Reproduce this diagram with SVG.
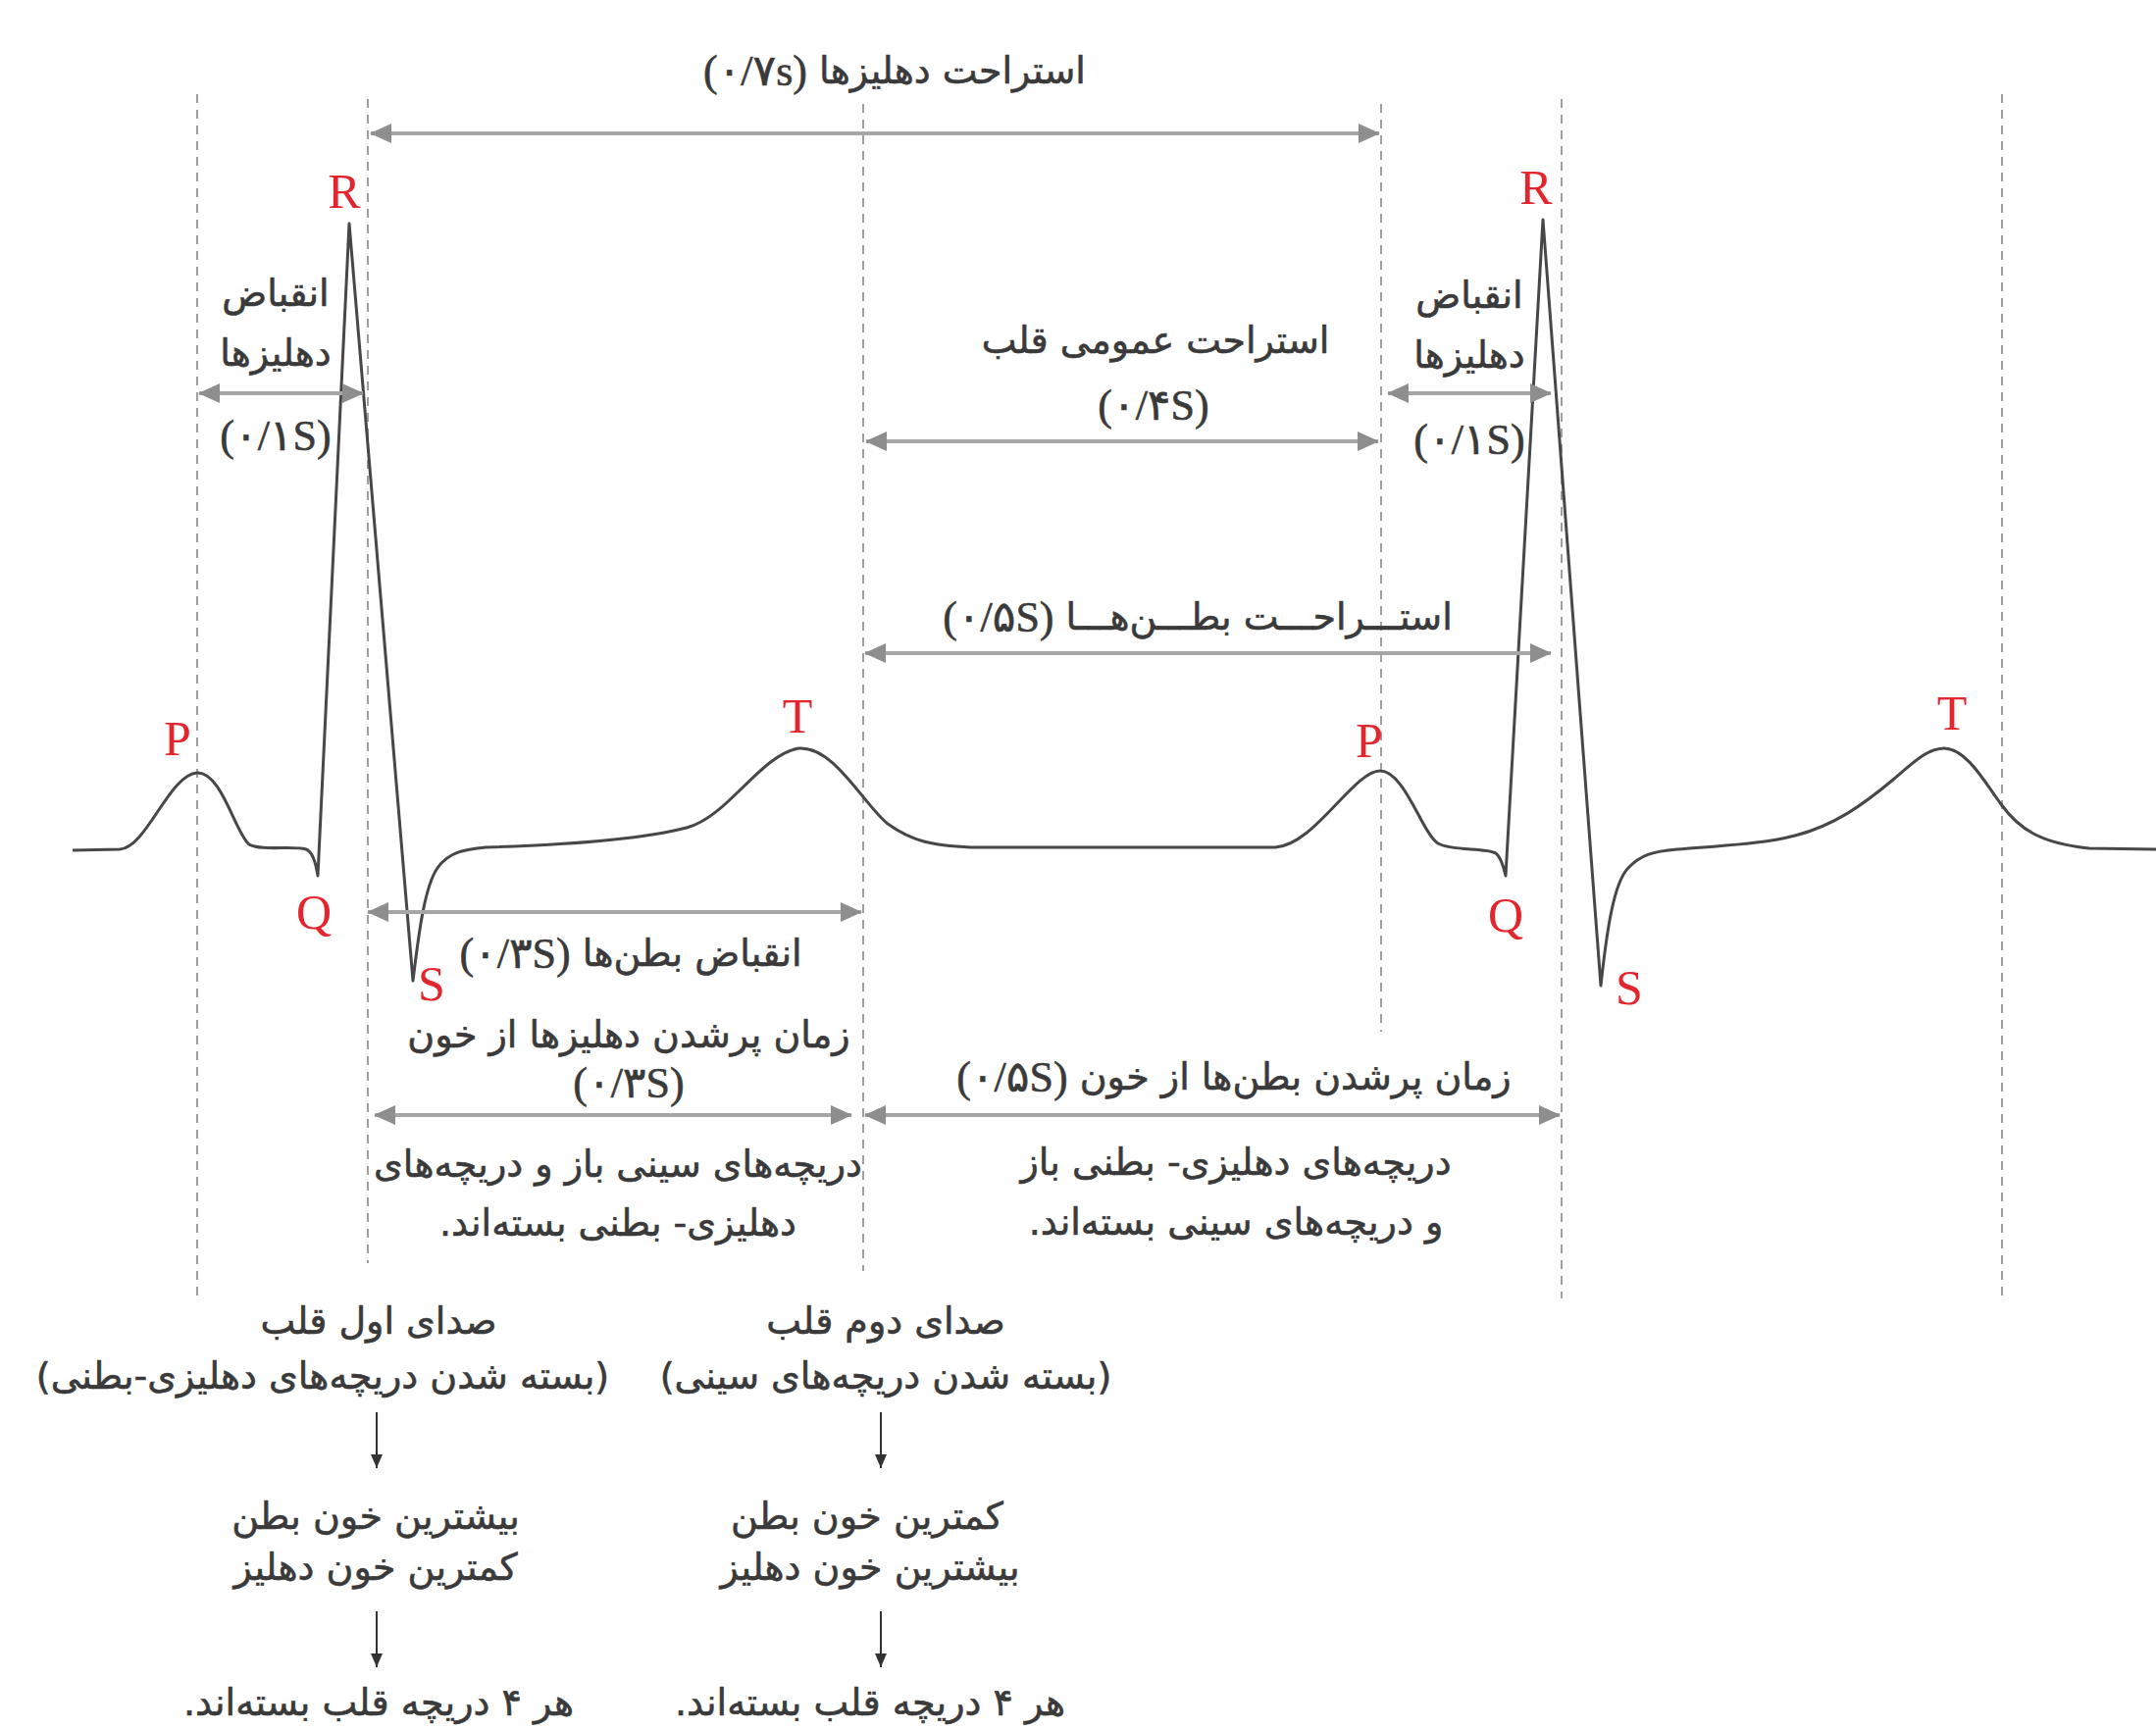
<svg xmlns="http://www.w3.org/2000/svg" width="2198" height="1763" viewBox="0 0 2198 1763">
<style>
.fa{font-family:"DejaVu Sans",sans-serif;font-size:38px;fill:#3a3a3a;stroke:#3a3a3a;stroke-width:0.6;direction:rtl;text-anchor:middle;dominant-baseline:central}
.ser{font-family:"Liberation Serif","DejaVu Sans",serif;font-size:44px}
.lbl{font-family:"Liberation Serif",serif;font-size:50px;fill:#e3262e;text-anchor:middle}
.guide{stroke:#a0a0a0;stroke-width:2;stroke-dasharray:9 7;fill:none}
.dim{stroke:#a6a6a6;stroke-width:4;fill:none;marker-start:url(#ah);marker-end:url(#ah)}
.flow{stroke:#333;stroke-width:2;fill:none;marker-end:url(#sh)}
.ecg{stroke:#474747;stroke-width:3;fill:none;stroke-linejoin:round}
</style>
<defs>
<marker id="ah" viewBox="0 0 22 20" refX="21" refY="10" markerWidth="22" markerHeight="20" orient="auto-start-reverse" markerUnits="userSpaceOnUse"><path d="M0,0 L22,10 L0,20 z" fill="#8e8e8e"/></marker>
<marker id="sh" viewBox="0 0 12 14" refX="6" refY="14" markerWidth="12" markerHeight="14" orient="0" markerUnits="userSpaceOnUse"><path d="M0,0 L12,0 L6,14 z" fill="#333"/></marker>
</defs>
<rect width="2198" height="1763" fill="#fff"/>

<g id="guides">
<line class="guide" x1="201" y1="96" x2="201" y2="1324"/>
<line class="guide" x1="375" y1="101" x2="375" y2="1288"/>
<line class="guide" x1="880" y1="106" x2="880" y2="1296"/>
<line class="guide" x1="1408" y1="106" x2="1408" y2="1052"/>
<line class="guide" x1="1592" y1="101" x2="1592" y2="1324"/>
<line class="guide" x1="2041" y1="96" x2="2041" y2="1326"/>
</g>

<g id="ecg">
<path class="ecg" d="M74,867 L122,866 C150,864 172,790 201,788 C226,787 240,850 254,861 C266,868 300,862 312,866 C318,868 322,880 324,893 L356,228 L421,1000 C426,960 432,905 446,885 C458,868 475,866 495,864 C560,862 650,857 700,844 C742,833 775,770 814,763 C850,760 880,820 905,840 C930,858 950,862 990,864 L1300,864 C1340,862 1380,786 1407,786 C1432,786 1450,850 1466,860 C1480,868 1515,864 1525,870 C1530,874 1533,884 1535,893 L1573,224 L1632,1005 C1638,950 1645,900 1660,885 C1672,872 1685,868 1710,866 C1760,862 1800,860 1830,852 C1870,842 1900,820 1930,795 C1950,778 1965,763 1982,763 C2005,763 2025,800 2040,820 C2058,845 2080,860 2130,865 L2198,866"/>
</g>

<g id="wave-labels">
<text class="lbl" x="181" y="770">P</text>
<text class="lbl" x="351" y="212">R</text>
<text class="lbl" x="320" y="947">Q</text>
<text class="lbl" x="440" y="1020">S</text>
<text class="lbl" x="813" y="747">T</text>
<text class="lbl" x="1396" y="772">P</text>
<text class="lbl" x="1566" y="208">R</text>
<text class="lbl" x="1535" y="950">Q</text>
<text class="lbl" x="1661" y="1024">S</text>
<text class="lbl" x="1990" y="744">T</text>
</g>

<g id="connectors">
<line class="dim" x1="378" y1="136" x2="1406" y2="136"/>
<line class="dim" x1="203" y1="401" x2="370" y2="401"/>
<line class="dim" x1="1415" y1="401" x2="1581" y2="401"/>
<line class="dim" x1="883" y1="450" x2="1405" y2="450"/>
<line class="dim" x1="882" y1="666" x2="1581" y2="666"/>
<line class="dim" x1="375" y1="930" x2="878" y2="930"/>
<line class="dim" x1="382" y1="1137" x2="868" y2="1137"/>
<line class="dim" x1="882" y1="1137" x2="1590" y2="1137"/>
<line class="flow" x1="384" y1="1440" x2="384" y2="1497"/>
<line class="flow" x1="384" y1="1643" x2="384" y2="1700"/>
<line class="flow" x1="898" y1="1440" x2="898" y2="1497"/>
<line class="flow" x1="898" y1="1643" x2="898" y2="1700"/>
</g>

<g id="atrial-rest"><text class="fa" x="912" y="72">استراحت دهلیزها <tspan class="ser">(۰/۷s)</tspan></text></g>
<g id="atrial-contraction-1">
<text class="fa" x="281" y="299">انقباض</text>
<text class="fa" x="281" y="360">دهلیزها</text>
<text class="fa ser" x="281" y="444">(۰/۱S)</text>
</g>
<g id="atrial-contraction-2">
<text class="fa" x="1498" y="301">انقباض</text>
<text class="fa" x="1498" y="362">دهلیزها</text>
<text class="fa ser" x="1498" y="448">(۰/۱S)</text>
</g>
<g id="general-rest">
<text class="fa" x="1178" y="347">استراحت عمومی قلب</text>
<text class="fa ser" x="1176" y="413">(۰/۴S)</text>
</g>
<g id="ventricular-rest"><text class="fa" x="1221" y="629">استـــراحـــت بطـــن‌هـــا <tspan class="ser">(۰/۵S)</tspan></text></g>
<g id="ventricular-contraction"><text class="fa" x="643" y="972">انقباض بطن‌ها <tspan class="ser">(۰/۳S)</tspan></text></g>
<g id="atrial-filling">
<text class="fa" x="641" y="1055">زمان پرشدن دهلیزها از خون</text>
<text class="fa ser" x="641" y="1104">(۰/۳S)</text>
<text class="fa" x="630" y="1187">دریچه‌های سینی باز و دریچه‌های</text>
<text class="fa" x="630" y="1247">دهلیزی- بطنی بسته‌اند.</text>
</g>
<g id="ventricular-filling">
<text class="fa" x="1258" y="1098">زمان پرشدن بطن‌ها از خون <tspan class="ser">(۰/۵S)</tspan></text>
<text class="fa" x="1260" y="1185">دریچه‌های دهلیزی- بطنی باز</text>
<text class="fa" x="1260" y="1246">و دریچه‌های سینی بسته‌اند.</text>
</g>
<g id="first-heart-sound">
<text class="fa" x="386" y="1347">صدای اول قلب</text>
<text class="fa" x="329" y="1403">(بسته شدن دریچه‌های دهلیزی-بطنی)</text>
</g>
<g id="first-sound-result">
<text class="fa" x="383" y="1546">بیشترین خون بطن</text>
<text class="fa" x="383" y="1598">کمترین خون دهلیز</text>
</g>
<g id="first-sound-valves"><text class="fa" x="386" y="1736">هر ۴ دریچه قلب بسته‌اند.</text></g>
<g id="second-heart-sound">
<text class="fa" x="903" y="1347">صدای دوم قلب</text>
<text class="fa" x="903" y="1403">(بسته شدن دریچه‌های سینی)</text>
</g>
<g id="second-sound-result">
<text class="fa" x="884" y="1546">کمترین خون بطن</text>
<text class="fa" x="887" y="1598">بیشترین خون دهلیز</text>
</g>
<g id="second-sound-valves"><text class="fa" x="887" y="1736">هر ۴ دریچه قلب بسته‌اند.</text></g>
</svg>
